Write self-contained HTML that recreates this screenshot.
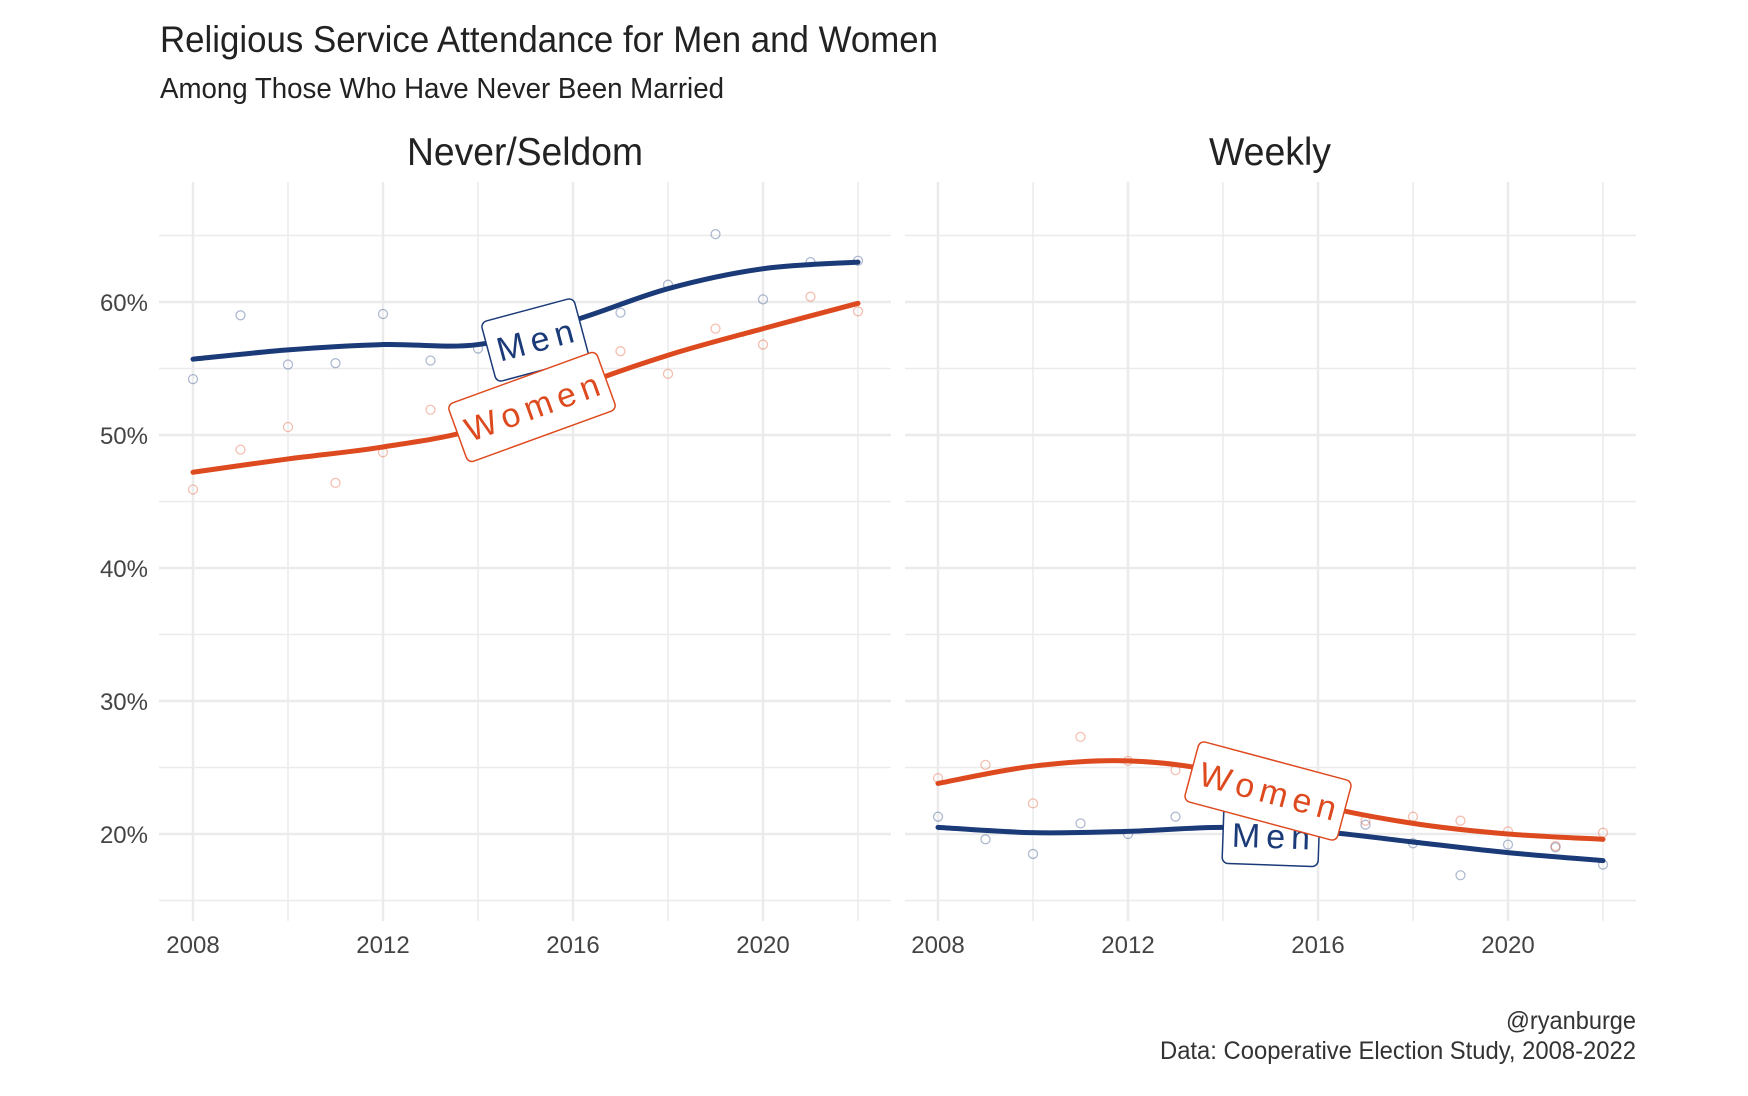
<!DOCTYPE html>
<html><head><meta charset="utf-8"><style>
body{margin:0;background:#fff}
svg{display:block}
text{font-family:"Liberation Sans",sans-serif}
</style></head><body>
<svg id="chart" width="1748" height="1096" viewBox="0 0 1748 1096" xmlns="http://www.w3.org/2000/svg">
<text x="160" y="52" font-size="37" fill="#222" textLength="778" lengthAdjust="spacingAndGlyphs">Religious Service Attendance for Men and Women</text>
<text x="160" y="98" font-size="29" fill="#222" textLength="564" lengthAdjust="spacingAndGlyphs">Among Those Who Have Never Been Married</text>
<text x="1636" y="1029" font-size="25" fill="#333" text-anchor="end" textLength="130" lengthAdjust="spacingAndGlyphs">@ryanburge</text>
<text x="1636" y="1059" font-size="25" fill="#333" text-anchor="end" textLength="476" lengthAdjust="spacingAndGlyphs">Data: Cooperative Election Study, 2008-2022</text>
<g id="plot"></g>
</svg>
<script>
const years=[2008,2009,2010,2011,2012,2013,2014,2015,2016,2017,2018,2019,2020,2021,2022];
const nsMenPts=[54.2,59.0,55.3,55.4,59.1,55.6,56.5,null,null,59.2,61.3,65.1,60.2,63.0,63.1];
const nsWomenPts=[45.9,48.9,50.6,46.4,48.7,51.9,null,null,null,56.3,54.6,58.0,56.8,60.4,59.3];
const wkMenPts=[21.3,19.6,18.5,20.8,20.0,21.3,null,null,null,20.7,19.3,16.9,19.2,19.0,17.7];
const wkWomenPts=[24.2,25.2,22.3,27.3,25.5,24.8,null,null,null,21.0,21.3,21.0,20.2,19.1,20.1];
const smoothYears=[2008,2010,2012,2014,2016,2018,2020,2022];
const nsMenFit=[55.7,56.4,56.8,56.8,58.6,61.0,62.5,63.0];
const nsWomenFit=[47.2,48.2,49.1,50.5,53.5,56.0,58.0,59.9];
const wkMenFit=[20.5,20.1,20.2,20.5,20.2,19.4,18.6,18.0];
const wkWomenFit=[23.8,25.1,25.5,24.6,22.2,20.8,20.0,19.6];
const yTicks=[20,30,40,50,60];
const yTickLabels=["20%","30%","40%","50%","60%"];
const xTicks=[2008,2012,2016,2020];
const panelTitles=["Never/Seldom","Weekly"];

const NS="http://www.w3.org/2000/svg";
const plot=document.getElementById('plot');
const BLUE="#1b3a78",RED="#de4a1f";
const yScale=v=>302+(60-v)*13.3;
const panels=[{x0:159,x1:891,xa:193,xb:858,cx:525,tw:236},{x0:905,x1:1636,xa:938,xb:1603,cx:1270,tw:122}];
function mk(tag,attrs,parent){const e=document.createElementNS(NS,tag);for(const k in attrs)e.setAttribute(k,attrs[k]);(parent||plot).appendChild(e);return e;}
function path(xs,ys){let p=xs.map((x,i)=>[x,ys[i]]);let d="M"+p[0][0]+","+p[0][1];
 for(let i=0;i<p.length-1;i++){const p0=p[Math.max(0,i-1)],p1=p[i],p2=p[i+1],p3=p[Math.min(p.length-1,i+2)];
  d+=" C"+(p1[0]+(p2[0]-p0[0])/6)+","+(p1[1]+(p2[1]-p0[1])/6)+" "+(p2[0]-(p3[0]-p1[0])/6)+","+(p2[1]-(p3[1]-p1[1])/6)+" "+p2[0]+","+p2[1];}
 return d;}
const series=[[nsMenPts,nsWomenPts,nsMenFit,nsWomenFit],[wkMenPts,wkWomenPts,wkMenFit,wkWomenFit]];
panels.forEach((P,pi)=>{
 const xs=y=>P.xa+(y-2008)*(P.xb-P.xa)/14;
 const g=mk('g',{});
 
 
 for(let v=15;v<=65;v+=5){const l=mk('line',{x1:P.x0,x2:P.x1,y1:yScale(v),y2:yScale(v),stroke:'#ebebeb','stroke-width':v%10===0?2.5:1.5},g);
  
  }
 for(let y=2008;y<=2022;y+=2){const l=mk('line',{x1:xs(y),x2:xs(y),y1:182,y2:921,stroke:'#ebebeb','stroke-width':y%4===0?2.5:1.5},g);
  
  }
 const t=mk('text',{x:P.cx,y:165,'font-size':39,'text-anchor':'middle',fill:'#222',textLength:P.tw,lengthAdjust:'spacingAndGlyphs'},g);t.textContent=panelTitles[pi];
 
 
 xTicks.forEach(y=>{const e=mk('text',{x:xs(y),y:953,'font-size':24,'text-anchor':'middle',fill:'#444'},g);e.textContent=y;
  
  });
 if(pi===0)yTicks.forEach((v,i)=>{const e=mk('text',{x:148,y:yScale(v)+9,'font-size':24,'text-anchor':'end',fill:'#444'},g);e.textContent=yTickLabels[i];
  
  });
 const S=series[pi];
 [[S[0],BLUE,'men'],[S[1],RED,'women']].forEach(([arr,c,n])=>arr.forEach((v,i)=>{if(v==null)return;
  const p=mk('circle',{cx:xs(years[i]),cy:yScale(v),r:4.5,fill:'none',stroke:c,'stroke-opacity':0.35,'stroke-width':1.3},g);
  
  }));
 [[S[2],BLUE,'men'],[S[3],RED,'women']].forEach(([arr,c,n])=>{
  const l=mk('path',{d:path(smoothYears.map(xs),arr.map(yScale)),fill:'none',stroke:c,'stroke-width':5,'stroke-linecap':'round'},g);
  
  });
});
function label(txt,cx,cy,w,h,rot,c,name){
 const g=mk('g',{transform:`translate(${cx},${cy}) rotate(${rot})`});
 
 
 mk('rect',{x:-w/2,y:-h/2,width:w,height:h,rx:6,fill:'#fff',stroke:c,'stroke-width':1.5},g);
 const t=mk('text',{x:3,y:12,'font-size':34,'text-anchor':'middle',fill:c,'letter-spacing':6},g);t.textContent=txt;}
label('Men',1271,836,96,58,2,BLUE,'label-men-weekly');
label('Women',1268,791,158,62,15,RED,'label-women-weekly');
label('Men',535,340,96,62,-15,BLUE,'label-men-never');
label('Women',532,407,158,62,-20,RED,'label-women-never');
</script>
</body></html>
